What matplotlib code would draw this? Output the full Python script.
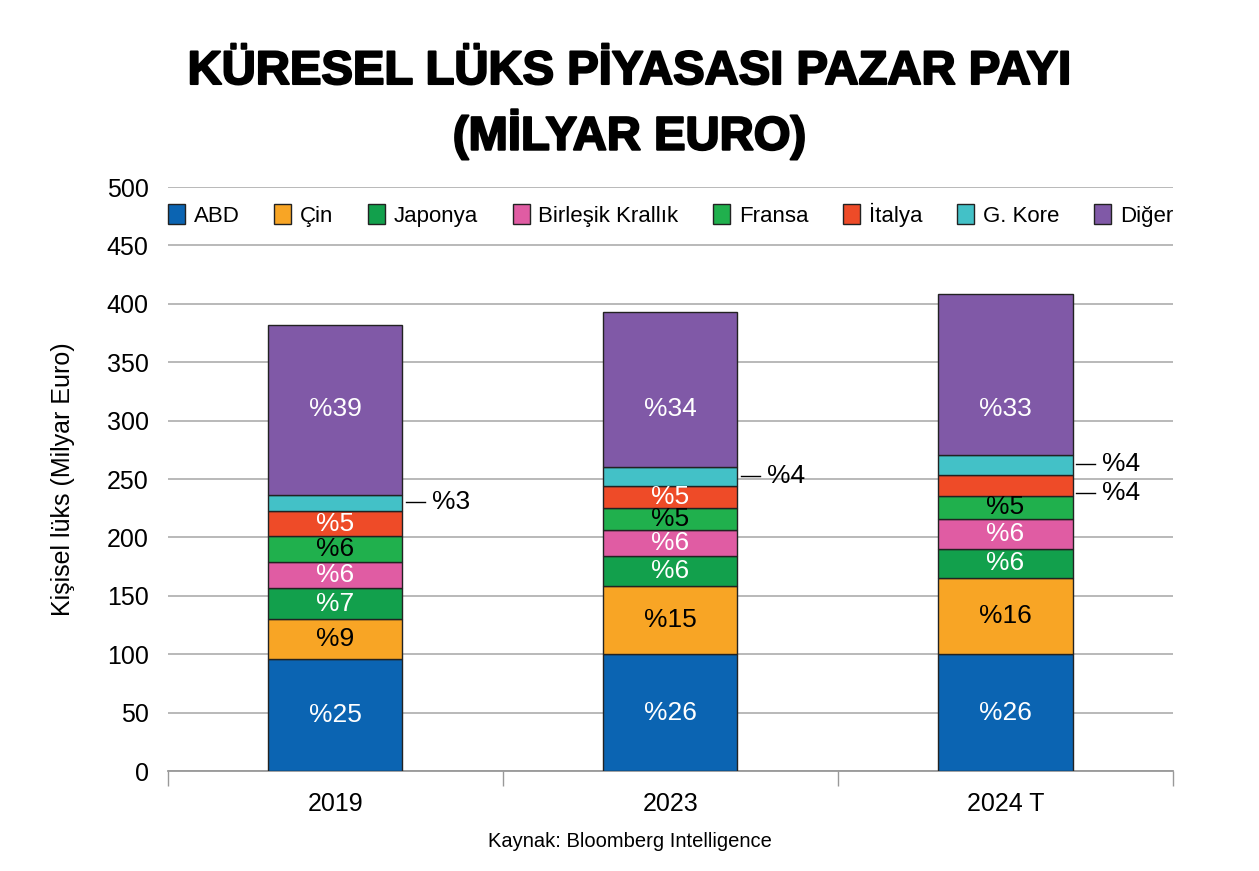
import matplotlib.pyplot as plt
import matplotlib.patheffects as pe
from matplotlib.transforms import offset_copy

plt.rcParams['font.family'] = ['Liberation Sans', 'DejaVu Sans']

years = ['2019', '2023', '2024 T']
series = ['ABD', 'Çin', 'Japonya', 'Birleşik Krallık', 'Fransa', 'İtalya', 'G. Kore', 'Diğer']
colors = ['#0b64b2', '#f8a525', '#12a04c', '#e05ca3', '#20b04d', '#ee4b28', '#43c1c7', '#8059a7']
text_colors = ['white', 'black', 'white', 'white', 'black', 'white', 'black', 'white']

# milyar euro
abd = [96.3, 100.0, 100.0]
cin = [33.5, 58.7, 65.3]
japonya = [26.6, 25.5, 25.2]
birlesik = [22.6, 22.3, 25.5]
fransa = [22.1, 18.6, 19.4]
italya = [21.5, 18.9, 17.7]
kore = [13.4, 16.0, 17.6]
diger = [145.9, 133.1, 137.3]

# share labels as printed
abd_pct = ['%25', '%26', '%26']
cin_pct = ['%9', '%15', '%16']
japonya_pct = ['%7', '%6', '%6']
birlesik_pct = ['%6', '%6', '%6']
fransa_pct = ['%6', '%5', '%5']
italya_pct = ['%5', '%5', '%4']
kore_pct = ['%3', '%4', '%4']
diger_pct = ['%39', '%34', '%33']

# labels drawn beside the bar instead of inside
italya_outside = [False, False, True]
kore_outside = [True, True, True]

values = [abd, cin, japonya, birlesik, fransa, italya, kore, diger]
labels = [abd_pct, cin_pct, japonya_pct, birlesik_pct, fransa_pct, italya_pct, kore_pct, diger_pct]
outside = [[False] * 3] * 5 + [italya_outside, kore_outside, [False] * 3]
# small vertical nudge (points) for side labels so they don't collide
side_nudge = [0, 0, 0, 0, 0, -5, 0.5, 0]
top_label_y = 310  # "Diğer" labels sit on one line in the original

fig = plt.figure(figsize=(12.59, 8.71), dpi=100)
ax = fig.add_axes([0.1334, 0.1148, 0.7983, 0.6705])

x = list(range(len(years)))
width = 0.4
bottom = [0, 0, 0]
for k, (vals, lab, outs, col, tcol, name) in enumerate(zip(values, labels, outside, colors, text_colors, series)):
    ax.bar(x, vals, width, bottom=bottom, color=col, edgecolor='#222222', linewidth=1, label=name, zorder=3)
    for i in x:
        yc = bottom[i] + vals[i] / 2
        if k == len(series) - 1:
            yc = top_label_y
        if outs[i]:
            tr = offset_copy(ax.transData, fig=fig, y=side_nudge[k], units='points')
            ax.plot([i + width / 2 + 0.01, i + width / 2 + 0.066], [yc, yc], color='black', lw=1,
                    transform=tr, zorder=3)
            ax.text(i + width / 2 + 0.088, yc, lab[i], transform=tr,
                    ha='left', va='center', fontsize=19, color='black')
        else:
            ax.text(i, yc, lab[i], ha='center', va='center', fontsize=19, color=tcol, zorder=4)
    bottom = [b + v for b, v in zip(bottom, vals)]

ax.set_xlim(-0.5, 2.5)
ax.set_ylim(0, 500)
ax.set_yticks(range(0, 501, 50))
ax.set_xticks(x)
ax.set_xticklabels(years)
ax.set_xticks([-0.5, 0.5, 1.5, 2.5], minor=True)
ax.tick_params(axis='x', which='major', length=0, labelsize=18, pad=15)
ax.tick_params(axis='x', which='minor', length=11, color='#999999', width=1)
ax.tick_params(axis='y', length=0, labelsize=18, pad=14)
ax.grid(axis='y', color='#b3b3b3', lw=1.3, zorder=0)
for s in ['left', 'right', 'top']:
    ax.spines[s].set_visible(False)
ax.spines['bottom'].set_color('#999999')
ax.spines['bottom'].set_linewidth(1.3)
ax.set_axisbelow(True)

ax.set_ylabel('Kişisel lüks (Milyar Euro)', fontsize=18)
ax.yaxis.set_label_coords(-0.092, 0.5)

ax.legend(loc='center', bbox_to_anchor=(0, 0.93, 1, 0.045), mode='expand', ncol=8, frameon=False,
          fontsize=16, handlelength=0.75, handleheight=1.0, handletextpad=0.4, borderaxespad=0, borderpad=0)

title_fx = [pe.withStroke(linewidth=1.5, foreground='black')]
fig.text(0.5, 1 - 72 / 871, 'KÜRESEL LÜKS PİYASASI PAZAR PAYI', ha='center', va='center',
         fontsize=34, fontweight='bold', path_effects=title_fx)
fig.text(0.5, 1 - 135 / 871, '(MİLYAR EURO)', ha='center', va='center',
         fontsize=34, fontweight='bold', path_effects=title_fx)
fig.text(0.5, 1 - 841 / 871, 'Kaynak: Bloomberg Intelligence', ha='center', va='center', fontsize=14.5)

fig.savefig('out.png', dpi=100)
